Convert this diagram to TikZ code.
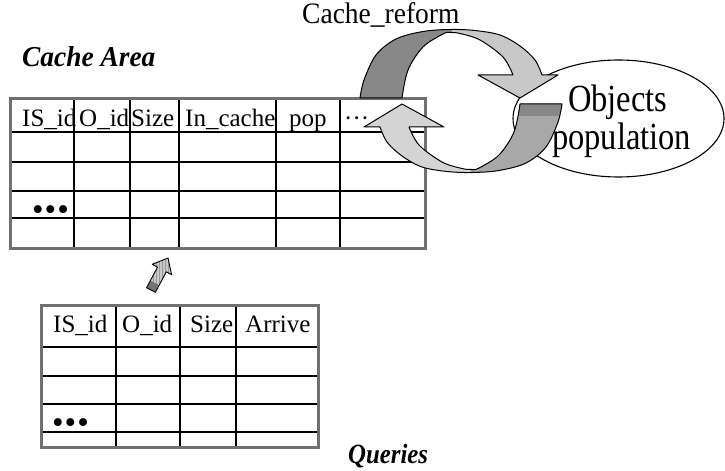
\documentclass[tikz,border=0pt]{standalone}
\usepackage{fontspec}
\setmainfont{Liberation Serif}
\usetikzlibrary{patterns}
\definecolor{tblborder}{RGB}{112,112,112}
\definecolor{arrdark}{RGB}{136,136,136}
\definecolor{arrlight}{RGB}{200,200,200}
\definecolor{arrmid}{RGB}{168,168,168}
\definecolor{arrpale}{RGB}{212,212,212}
\definecolor{smallarr}{RGB}{200,200,200}
% outline of one half of the circular arrow pair (tail on the left, head on the right)
\newcommand\ringpath{plot[smooth, tension=0.55] coordinates {(360,98) (364,80) (376,55) (396,39) (423,31.5) (450,29.5) (475,30.5) (500,35) (520,46) (535,60) (542,75)} -- (558,75) -- (520,98) -- (478,75) -- plot[smooth, tension=0.55] coordinates {(513,75) (503,57) (480,40) (460,33.5) (450,32.5) (443,34) (423,47) (408,70) (402,98)} -- cycle}
% fill the half arrow: #1 head side, #2 tail side, #3 tail cap
\newcommand\ringarrow[3]{%
  \fill[#1] \ringpath;
  \begin{scope}\clip (300,0) rectangle (452,200); \fill[#2] \ringpath; \end{scope}
  \begin{scope}\clip (300,86) rectangle (452,200); \fill[#3] \ringpath; \end{scope}
  \draw[line width=1bp, line join=round] \ringpath;
}
% outline of the small block arrow between the two tables
\newcommand\blockpath{(146.6,287.7) -- (157.5,267.2) -- (152.2,264.3) -- (168,258) -- (171.6,274.7) -- (166.3,271.8) -- (155.4,292.3) -- cycle}
% slightly tall lettering
\newcommand\tallish[2]{\scalebox{1}[#1]{#2}}
\begin{document}
\begin{tikzpicture}[x=1bp,y=-1bp,
  tblframe/.style={draw=tblborder, line width=3bp},
  tblrule/.style={draw=black, line width=1.3bp},
  hdr/.style={inner sep=0, anchor=base west, font=\fontsize{25bp}{30bp}\selectfont},
  dotsrow/.style={inner sep=0, anchor=base west, font=\fontsize{33bp}{36bp}\selectfont},
  caption/.style={inner sep=0, anchor=base west}]
\useasboundingbox (0,0) rectangle (725,471);

% ---- cache table ----
\foreach \x in {74,130,179,276,340} \draw[tblrule] (\x,98.5) -- (\x,249);
\foreach \y in {132,162,191,218} \draw[tblrule] (10,\y) -- (425,\y);
\draw[tblframe] (10,98.5) rectangle (425,249);
\node[hdr] (cIS)  at (22,127)  {IS\_id};
\node[hdr] (cOid) at (79,127)  {O\_id};
\node[hdr] (cSz)  at (131,127) {Size};
\node[hdr] (cIn)  at (185,127) {In\_cache};
\node[hdr] (cPop) at (289,127) {pop};
\node[hdr] (cMore) at (344,127) {···};
\node[dotsrow] (cDots) at (32,221) {•\kern1bp•\kern1bp•};
\node[caption, font=\fontsize{27.4bp}{30bp}\selectfont\bfseries\itshape] (cache) at (22,67) {\tallish{1.05}{Cache Area}};

% ---- queries table ----
\foreach \x in {116,180,236} \draw[tblrule] (\x,306) -- (\x,447);
\foreach \y in {347,376,404,432} \draw[tblrule] (41,\y) -- (318,\y);
\draw[tblframe] (41,306) rectangle (318,447);
\node[hdr] (qIS)  at (53,333)  {IS\_id};
\node[hdr] (qOid) at (122,333) {O\_id};
\node[hdr] (qSz)  at (190,333) {Size};
\node[hdr] (qArr) at (245,333) {Arrive};
\node[dotsrow] (qDots) at (52,433) {•\kern1bp•\kern1bp•};
\node[caption, font=\fontsize{24.8bp}{28bp}\selectfont\bfseries\itshape] (queries) at (348,463) {\tallish{1.12}{Queries}};

% ---- object population ----
\draw[line width=1.1bp] (618.5,118.5) ellipse [x radius=105.5bp, y radius=58.5bp];
\node[inner sep=0, anchor=base west, font=\fontsize{32.5bp}{38bp}\selectfont] (obj) at (568,112) {\tallish{1.18}{Objects}};
\node[inner sep=0, anchor=base west, font=\fontsize{32.5bp}{38bp}\selectfont] (pop) at (552,150) {\tallish{1.18}{population}};

% ---- circular reform arrows ----
\ringarrow{arrlight}{arrdark}{arrdark}
\begin{scope}[rotate around={180:(461,101)}]
  \ringarrow{arrpale}{arrmid}{arrdark}
\end{scope}
\node[inner sep=0, anchor=base west, font=\fontsize{27.5bp}{30bp}\selectfont] (reform) at (302,24) {\tallish{1.08}{Cache\_reform}};

% ---- block arrow from queries to cache ----
\fill[smallarr] \blockpath;
\fill[pattern=vertical lines, pattern color=black!75] \blockpath;
\fill[black!55] (146.6,287.7) -- (150.4,280.6) -- (159.2,285.2) -- (155.4,292.3) -- cycle;
\draw[line width=0.9bp, line join=round] \blockpath;
\end{tikzpicture}
\end{document}
